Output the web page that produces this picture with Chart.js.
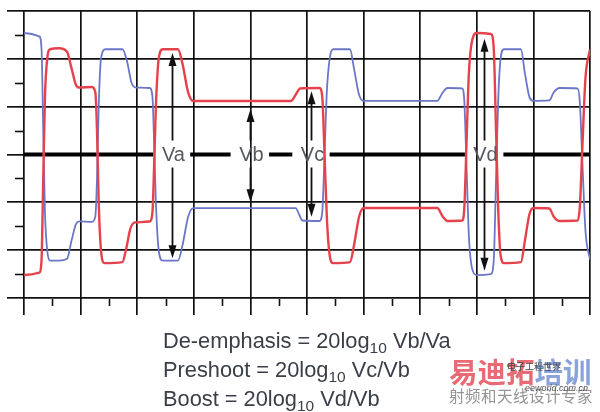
<!DOCTYPE html>
<html><head><meta charset="utf-8">
<script src="https://cdn.jsdelivr.net/npm/chart.js@4/dist/chart.umd.min.js"></script>
<style>
html,body{margin:0;padding:0;background:#fff;}
#wrap{width:600px;height:412px;position:relative;overflow:hidden;}
#c{position:absolute;left:0;top:0;}
#formula{position:absolute;left:163px;top:327px;font-family:"Liberation Sans",Arial,sans-serif;font-size:21.8px;line-height:27px;color:#3a3e47;white-space:nowrap;}
#formula .s{font-size:15.5px;position:relative;top:5px;}
#wm{position:absolute;left:449px;top:356px;font-family:"Noto Sans CJK SC",sans-serif;white-space:nowrap;}
#wm .big{font-size:28.5px;font-weight:bold;line-height:30px;letter-spacing:0px;}
#wm .r{color:rgba(228,80,92,0.85);}
#wm .b{color:rgba(110,140,210,0.8);}
#wm .small{font-size:15.5px;line-height:18px;color:rgba(120,120,120,0.8);letter-spacing:0.5px;}
#wm .logo{position:absolute;left:58px;top:4px;font-size:9px;color:#444;}
#wm .site{position:absolute;left:76px;top:27px;font-size:9px;font-style:italic;color:#555;font-family:"Liberation Sans",sans-serif;}
</style>
</head><body>
<div id="wrap">
<canvas id="c" width="600" height="412"></canvas>
<div id="formula"></div>
<div id="wm">
<div class="big"><span class="r">易迪拓</span><span class="b">培训</span></div>
<div class="small">射频和天线设计专家</div>
<div class="logo">电子工程世界</div>
<div class="site">eeworld.com.cn</div>
</div>
</div>
<script>
// ---- data ----
const redTime  = [0, 0.27, 0.31, 0.34, 0.37, 0.41, 0.46, 0.62, 0.76, 0.84, 0.92, 0.98, 1.20, 1.26, 1.29, 1.32, 1.36, 1.42, 1.74, 1.80, 1.88, 1.96, 2.22, 2.27, 2.30, 2.33, 2.38, 2.45, 2.72, 2.80, 2.90, 2.99, 4.72, 4.80, 4.88, 5.22, 5.27, 5.31, 5.35, 5.40, 5.46, 5.76, 5.83, 5.92, 6.0, 7.30, 7.40, 7.48, 7.74, 7.78, 7.82, 7.86, 7.92, 8.0, 8.25, 8.30, 8.34, 8.38, 8.42, 8.48, 8.78, 8.85, 8.93, 9.0, 9.28, 9.36, 9.46, 9.78, 9.82, 9.87, 9.92, 10.0];
const redLevel = [-2.52, -2.47, -2.2, -0.5, 1.2, 2.0, 2.2, 2.22, 2.15, 1.8, 1.45, 1.4, 1.41, 1.3, 0.5, -1.0, -2.0, -2.27, -2.25, -2.0, -1.55, -1.42, -1.4, -1.2, -0.2, 1.0, 2.0, 2.2, 2.2, 1.9, 1.3, 1.12, 1.12, 1.25, 1.38, 1.39, 1.2, 0.0, -1.3, -2.1, -2.27, -2.25, -1.9, -1.3, -1.12, -1.12, -1.3, -1.39, -1.38, -1.1, 0.3, 1.7, 2.4, 2.54, 2.52, 2.2, 0.5, -1.2, -2.1, -2.27, -2.25, -1.8, -1.25, -1.12, -1.13, -1.3, -1.39, -1.38, -1.1, 0.3, 1.6, 2.2];
const blueTime  = [0, 0.27, 0.31, 0.34, 0.37, 0.41, 0.46, 0.62, 0.76, 0.84, 0.92, 0.98, 1.20, 1.26, 1.29, 1.32, 1.36, 1.44, 1.74, 1.82, 1.90, 1.98, 2.22, 2.27, 2.30, 2.33, 2.38, 2.45, 2.72, 2.80, 2.90, 2.99, 4.80, 4.86, 4.92, 5.22, 5.27, 5.31, 5.35, 5.40, 5.46, 5.76, 5.83, 5.92, 6.0, 7.30, 7.40, 7.48, 7.74, 7.78, 7.82, 7.86, 7.92, 8.0, 8.25, 8.30, 8.34, 8.38, 8.42, 8.48, 8.78, 8.85, 8.93, 9.0, 9.28, 9.36, 9.46, 9.78, 9.82, 9.87, 9.92, 10.0];
const blueLevel = [2.54, 2.47, 2.2, 0.5, -1.2, -2.0, -2.22, -2.22, -2.18, -1.8, -1.45, -1.4, -1.41, -1.3, -0.5, 1.0, 2.0, 2.2, 2.2, 1.95, 1.5, 1.4, 1.39, 1.2, 0.2, -1.0, -2.0, -2.22, -2.22, -1.9, -1.3, -1.12, -1.12, -1.25, -1.38, -1.39, -1.2, 0.0, 1.3, 2.0, 2.2, 2.2, 1.8, 1.25, 1.12, 1.12, 1.3, 1.39, 1.38, 1.1, -0.3, -1.7, -2.4, -2.52, -2.5, -2.2, -0.5, 1.2, 2.0, 2.2, 2.2, 1.7, 1.2, 1.12, 1.13, 1.3, 1.39, 1.38, 1.1, -0.3, -1.6, -2.2];
const xMinorTicks = [0.5, 1.5, 2.5, 3.5, 4.5, 5.5, 6.5, 7.5, 8.5, 9.5];
const yMinorTicks = [2.5, 1.5, 0.5, -0.5, -1.5, -2.5];
const arrowNames  = ['Va', 'Vb', 'Vc', 'Vd'];
const arrowTime   = [2.61, 3.99, 5.07, 8.13];
const arrowTop    = [2.12, 0.95, 1.32, 2.42];
const arrowBottom = [-2.17, -1.0, -1.3, -2.43];
const formulaNames  = ['De-emphasis', 'Preshoot', 'Boost'];
const formulaRatios = ['Vb/Va', 'Vc/Vb', 'Vd/Vb'];

document.getElementById('formula').innerHTML = formulaNames.map((n, i) =>
  '<div>' + n + ' = 20log<span class="s">10</span> ' + formulaRatios[i] + '</div>').join('');

const toPts = (t, v) => t.map((x, i) => ({x: x, y: v[i]}));

const annot = {
  id: 'annot',
  beforeDatasetsDraw(chart) {
    const {ctx, chartArea: a, scales: {x, y}} = chart;
    const y0 = y.getPixelForValue(0);
    ctx.save();
    ctx.font = '20px "Liberation Sans", Arial, sans-serif';
    ctx.strokeStyle = '#000';
    ctx.lineWidth = 4;
    let start = a.left;
    arrowNames.forEach((n, i) => {
      const cx = x.getPixelForValue(arrowTime[i]);
      const hw = ctx.measureText(n).width / 2 + 7;
      ctx.beginPath(); ctx.moveTo(start, y0); ctx.lineTo(cx - hw, y0); ctx.stroke();
      start = cx + hw;
    });
    ctx.beginPath(); ctx.moveTo(start, y0); ctx.lineTo(a.right, y0); ctx.stroke();
    ctx.strokeStyle = '#111';
    ctx.lineWidth = 1.6;
    yMinorTicks.forEach(v => {
      const py = Math.round(y.getPixelForValue(v)) + 0.5;
      ctx.beginPath(); ctx.moveTo(a.left - 9, py); ctx.lineTo(a.left, py); ctx.stroke();
    });
    xMinorTicks.forEach(v => {
      const px = Math.round(x.getPixelForValue(v)) + 0.5;
      ctx.beginPath(); ctx.moveTo(px, a.bottom + 1); ctx.lineTo(px, a.bottom + 8); ctx.stroke();
    });
    ctx.restore();
  },
  afterDatasetsDraw(chart) {
    const {ctx, scales: {x, y}} = chart;
    const y0 = y.getPixelForValue(0);
    ctx.save();
    ctx.font = '20px "Liberation Sans", Arial, sans-serif';
    ctx.textAlign = 'center';
    ctx.textBaseline = 'middle';
    arrowNames.forEach((n, i) => {
      const cx = Math.round(x.getPixelForValue(arrowTime[i])) + 0.5;
      const tTop = y.getPixelForValue(arrowTop[i]);
      const tBot = y.getPixelForValue(arrowBottom[i]);
      ctx.strokeStyle = '#111'; ctx.fillStyle = '#111'; ctx.lineWidth = 1.8;
      ctx.beginPath(); ctx.moveTo(cx, y0 - 14); ctx.lineTo(cx, tTop + 8); ctx.stroke();
      ctx.beginPath(); ctx.moveTo(cx, y0 + 13); ctx.lineTo(cx, tBot - 8); ctx.stroke();
      ctx.beginPath(); ctx.moveTo(cx, tTop); ctx.lineTo(cx - 4, tTop + 13); ctx.lineTo(cx + 4, tTop + 13); ctx.closePath(); ctx.fill();
      ctx.beginPath(); ctx.moveTo(cx, tBot); ctx.lineTo(cx - 4, tBot - 13); ctx.lineTo(cx + 4, tBot - 13); ctx.closePath(); ctx.fill();
      ctx.fillStyle = '#55585e';
      ctx.fillText(n, cx + 1, y0 + 1);
    });
    ctx.restore();
  }
};

new Chart(document.getElementById('c'), {
  type: 'line',
  data: {
    datasets: [
      {label: 'red', data: toPts(redTime, redLevel), borderColor: '#e6424c', borderWidth: 2.4,
       pointRadius: 0, cubicInterpolationMode: 'monotone', fill: false},
      {label: 'blue', data: toPts(blueTime, blueLevel), borderColor: '#6b77c6', borderWidth: 1.8,
       pointRadius: 0, cubicInterpolationMode: 'monotone', fill: false}
    ]
  },
  options: {
    responsive: false, animation: false, devicePixelRatio: 1,
    layout: {padding: {left: 7, top: 11, right: 10, bottom: 97}},
    plugins: {legend: {display: false}, tooltip: {enabled: false}},
    scales: {
      x: {type: 'linear', min: 0, max: 10,
          ticks: {stepSize: 1, display: false},
          grid: {color: '#111', lineWidth: 1.7, tickLength: 17, drawTicks: true},
          border: {display: false}},
      y: {type: 'linear', min: -3, max: 3,
          ticks: {stepSize: 1, display: false},
          grid: {color: c => (c.tick && c.tick.value === 0) ? 'rgba(0,0,0,0)' : '#111',
                 tickColor: '#111', lineWidth: 1.7, tickLength: 17, drawTicks: true},
          border: {display: false}}
    }
  },
  plugins: [annot]
});
</script>
</body></html>
